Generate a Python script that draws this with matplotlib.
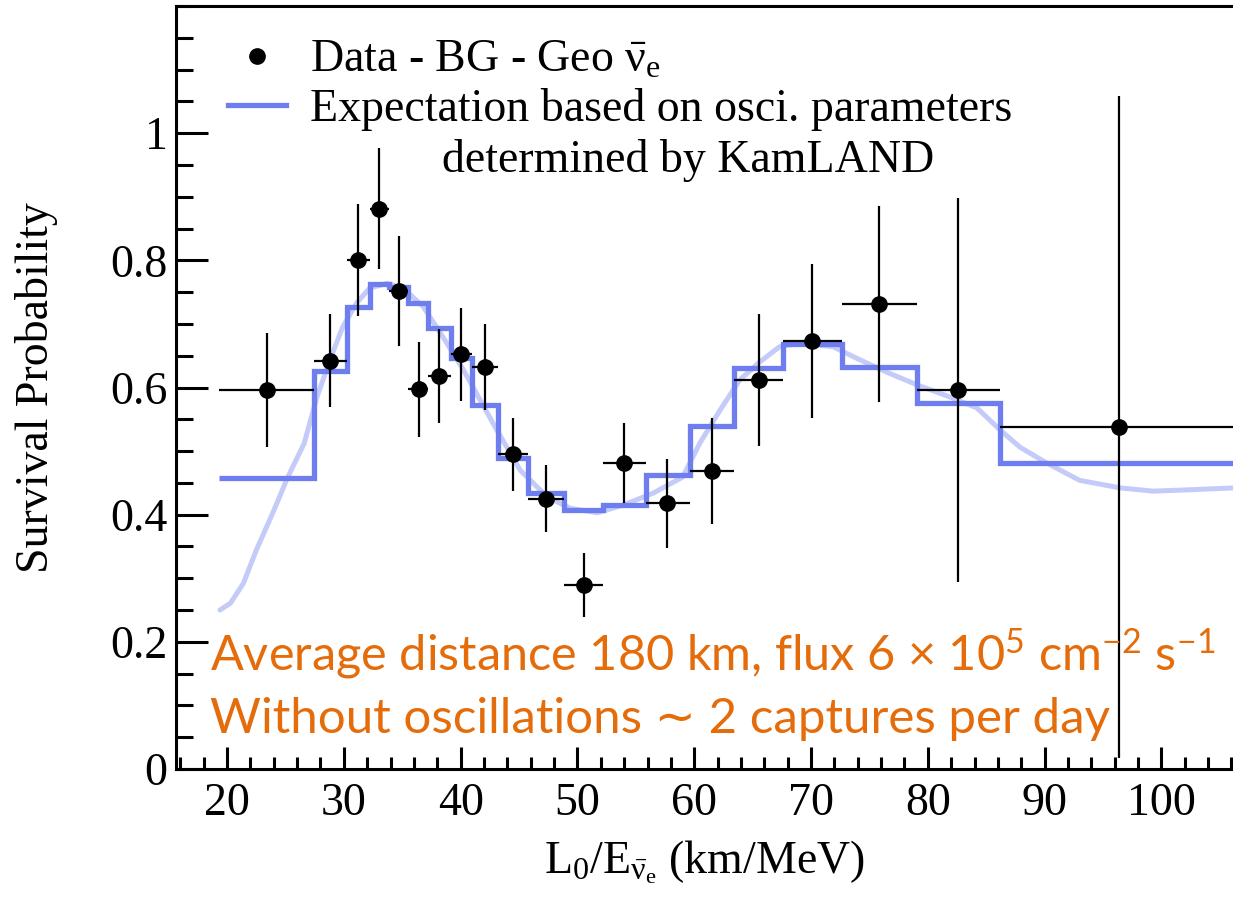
import numpy as np
import matplotlib
matplotlib.use("Agg")
import matplotlib.pyplot as plt
from matplotlib.lines import Line2D
from matplotlib.ticker import MultipleLocator, FixedLocator, FixedFormatter

plt.rcParams['mathtext.default'] = 'regular'

# ---- data ----
# data points (Data - BG - Geo anti-nu_e)
pt_x = [23.42, 28.82, 31.2, 33.0, 34.73, 36.44, 38.15, 40.03, 42.09, 44.49,
        47.31, 50.57, 53.99, 57.67, 61.52, 65.55, 70.09, 75.82, 82.59, 96.37]
pt_y = [0.596, 0.642, 0.800, 0.881, 0.752, 0.597, 0.618, 0.652, 0.632, 0.495,
        0.425, 0.289, 0.481, 0.418, 0.469, 0.612, 0.673, 0.731, 0.596, 0.538]
pt_yerr = [0.090, 0.073, 0.088, 0.095, 0.086, 0.075, 0.074, 0.073, 0.068, 0.057,
           0.053, 0.050, 0.063, 0.070, 0.083, 0.104, 0.121, 0.154, 0.302, 0.520]
# bin edges (shared by points' x-errors and expectation histogram)
bin_edges = [19.32, 27.45, 30.27, 32.24, 33.87, 35.50, 37.21, 39.18, 40.98, 43.20,
             45.77, 48.85, 52.19, 55.87, 59.64, 63.41, 67.60, 72.65, 79.08, 86.18, 106.6]
# expectation (binned)
exp_binned = [0.458, 0.626, 0.726, 0.763, 0.758, 0.733, 0.694, 0.646, 0.572, 0.489,
              0.434, 0.407, 0.415, 0.462, 0.539, 0.631, 0.668, 0.632, 0.575, 0.482]
# expectation (smooth curve)
curve_x = [19.4, 20.3, 21.4, 22.5, 23.9, 25.2, 26.6, 27.7, 28.8, 29.9, 31.1, 32.2,
           33.7, 35.1, 36.8, 38.5, 40.2, 43.1, 45.1, 47.4, 49.4, 51.7, 53.9, 56.5,
           59.0, 60.5, 62.2, 63.9, 65.6, 67.3, 69.1, 71.9, 73.9, 76.5, 79.1, 81.9,
           84.2, 86.2, 87.9, 90.2, 93.0, 96.5, 99.3, 102.2, 106.1]
curve_y = [0.250, 0.261, 0.292, 0.344, 0.402, 0.459, 0.512, 0.585, 0.643, 0.695,
           0.733, 0.756, 0.764, 0.756, 0.727, 0.679, 0.629, 0.533, 0.470, 0.428,
           0.410, 0.403, 0.415, 0.434, 0.459, 0.513, 0.564, 0.612, 0.640, 0.664,
           0.670, 0.664, 0.646, 0.624, 0.604, 0.585, 0.568, 0.533, 0.506, 0.481,
           0.454, 0.442, 0.437, 0.439, 0.442]

x_major = [20, 30, 40, 50, 60, 70, 80, 90, 100]
y_major = [0, 0.2, 0.4, 0.6, 0.8, 1.0]
y_labels = ['0', '0.2', '0.4', '0.6', '0.8', '1']

legend_labels = ['Data - BG - Geo $\\bar{\\nu}_e$',
                 'Expectation based on osci. parameters']
legend_line3 = 'determined by KamLAND'
note_line1 = 'Average distance 180 km, flux 6 \u00d7 10$^5$ cm$^{\u2212 2}$ s$^{\u2212 1}$'
note_line2 = 'Without oscillations \u223c 2 captures per day'

# ---- figure ----
BLUE = '#6E7EEE'
ORANGE = '#E46C0A'
SERIF = 'Liberation Serif'

fig = plt.figure(figsize=(12.33, 9.01), dpi=100)
ax = fig.add_axes([176/1233, 132/901, 1 - 176/1233, (769-6)/901])

ax.plot(curve_x, curve_y, color=BLUE, alpha=0.4, lw=3.6, solid_capstyle='round', zorder=1)
ax.stairs(exp_binned, bin_edges, baseline=None, color=BLUE, lw=3.8, zorder=2)

edges = np.array(bin_edges)
px = np.array(pt_x)
xerr = [px - edges[:-1], edges[1:] - px]
ax.errorbar(pt_x, pt_y, xerr=xerr, yerr=pt_yerr, fmt='o', color='black', ms=11,
            elinewidth=1.6, capsize=0, zorder=3)

ax.set_xlim(15.63, 106.13)
ax.set_ylim(0, 1.2)

for s in ['left', 'bottom', 'top']:
    ax.spines[s].set_linewidth(2.2)
ax.spines['right'].set_visible(False)

ax.xaxis.set_major_locator(FixedLocator(x_major))
ax.xaxis.set_minor_locator(MultipleLocator(2))
ax.yaxis.set_major_locator(FixedLocator(y_major))
ax.yaxis.set_major_formatter(FixedFormatter(y_labels))
ax.yaxis.set_minor_locator(MultipleLocator(0.05))

ax.tick_params(axis='both', which='both', direction='in', width=2.2,
               top=False, right=False)
ax.tick_params(axis='y', which='major', length=23, pad=6)
ax.tick_params(axis='y', which='minor', length=12)
ax.tick_params(axis='x', which='major', length=16, pad=10)
ax.tick_params(axis='x', which='minor', length=8.5)
for lab in ax.get_xticklabels() + ax.get_yticklabels():
    lab.set_fontfamily(SERIF)
    lab.set_fontsize(33)

ax.set_xlabel('L$_0$/E$_{\\bar{\\nu}_e}$ (km/MeV)', fontfamily=SERIF, fontsize=33, labelpad=9)
ax.set_ylabel('Survival Probability', fontfamily=SERIF, fontsize=33)
ax.yaxis.set_label_coords(-0.112, 0.5)

handles = [Line2D([], [], marker='o', color='black', ls='none', ms=11),
           Line2D([], [], color=BLUE, lw=3.8)]
leg = ax.legend(handles, legend_labels, loc='upper left', bbox_to_anchor=(0.049, 0.956),
                frameon=False, prop={'family': SERIF, 'size': 33},
                handlelength=1.27, handletextpad=0.52, borderpad=0, borderaxespad=0,
                labelspacing=0.12)
ax.text(0.2517, 0.797, legend_line3, transform=ax.transAxes, fontfamily=SERIF,
        fontsize=33, va='center', ha='left')

ax.text(0.032, 0.1297, note_line1, transform=ax.transAxes, fontfamily=['Lato', 'DejaVu Sans'],
        fontsize=35, color=ORANGE, va='baseline', ha='left')
ax.text(0.032, 0.047, note_line2, transform=ax.transAxes, fontfamily=['Lato', 'DejaVu Sans'],
        fontsize=35.5, color=ORANGE, va='baseline', ha='left')

fig.savefig('out.png', dpi=100)
